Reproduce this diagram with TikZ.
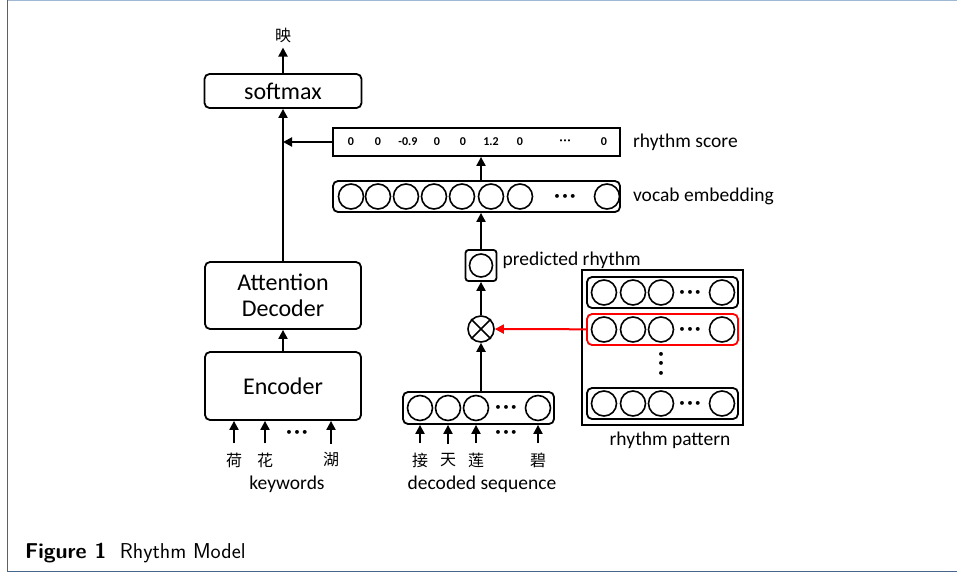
\documentclass[tikz,border=0pt]{standalone}
\usepackage{fontspec}
\setmainfont{Carlito}
\newfontfamily\cjk{Noto Sans CJK SC}
\usetikzlibrary{positioning,arrows.meta}

\definecolor{frameblue}{RGB}{70,100,140}
\definecolor{framelight}{RGB}{160,185,210}

\newcommand{\hdots}{\textbullet\hspace{2.5pt}\textbullet\hspace{2.5pt}\textbullet}

\begin{document}
\begin{tikzpicture}[x=1pt,y=-1pt,
  box/.style={draw,line width=1.8pt,rounded corners=5pt,inner sep=0pt},
  unit/.style={draw,circle,line width=1.6pt,minimum size=25pt,inner sep=0pt},
  arr/.style={-{Triangle[length=9pt,width=9pt]},line width=2pt},
  lbl/.style={font=\fontsize{19.5}{23}\selectfont,inner sep=0pt},
  big/.style={font=\fontsize{24}{27}\selectfont,align=center},
  ch/.style={font=\cjk\fontsize{16}{18}\selectfont,inner sep=0pt},
  num/.style={font=\bfseries\fontsize{12}{14}\selectfont,inner sep=0pt},
  dots/.style={font=\fontsize{11}{12}\selectfont,inner sep=0pt},
]
\useasboundingbox (0,0) rectangle (957,573);

% frame
\draw[framelight, line width=1pt] (7.5,0.5) -- (957,0.5);
\draw[frameblue, line width=1.5pt] (7.5,0) -- (7.5,571.5) -- (957,571.5);

% left branch: encoder / decoder / softmax
\node[box, big, minimum width=157pt, minimum height=34pt] (softmax) at (283,91) {softmax};
\node[ch, inner sep=3pt] (out) at (283,35) {映};
\node[box, big, minimum width=156pt, minimum height=67pt] (att) at (283,295.5) {Attention\\[-1pt]Decoder};
\node[box, big, minimum width=156pt, minimum height=68pt] (enc) at (283,386) {Encoder};

\draw[arr] (enc) -- (att);
\draw[arr] (att) -- (softmax);
\draw[arr, shorten >=2pt] (softmax) -- (out);

\foreach \x/\c [count=\i] in {234/荷,265/花,331/湖} {
  \node[ch] (k\i) at (\x,460) {\c};
  \draw[arr, shorten <=9pt] (k\i) -- (k\i |- enc.south);
}
\node[dots] (kdots) at (297,433) {\hdots};
\node[lbl] (kw) at (287,484) {keywords};

% rhythm score
\node[draw, line width=1.8pt, minimum width=287pt, minimum height=28pt] (score) at (476.5,142) {};
\foreach \x/\v [count=\i] in {351/0,378/0,408/-0.9,437/0,463/0,491/1.2,520/0,604/0}
  \node[num] (s\i) at (\x,142) {\v};
\node[dots, font=\fontsize{6}{7}\selectfont] (sdots) at (565,141) {\textbullet\hspace{1pt}\textbullet\hspace{1pt}\textbullet};
\node[lbl, right=12pt of score] (scorelbl) {rhythm score};
\draw[arr] (score.west) -- (score.west -| att.north);

% vocab embedding
\node[box, minimum width=287pt, minimum height=31pt] (vocab) at (476.5,196.5) {};
\foreach \x [count=\i] in {351,378,406,434,462,491,520,607}
  \node[unit] (v\i) at (\x,196.5) {};
\node[dots] (vdots) at (565,197) {\hdots};
\node[lbl, right=12pt of vocab] (vocablbl) {vocab embedding};

% predicted rhythm
\node[box, rounded corners=3pt, minimum size=31pt] (pred) at (481,265.5) {};
\node[unit, minimum size=23pt] (predu) at (pred) {};
\node[lbl, anchor=base west] (predlbl) at ([xshift=5pt]pred.east) {predicted rhythm};

\draw[arr] (pred) -- (vocab.south -| pred);
\draw[arr] (vocab.north -| pred) -- (score.south -| pred);

% product
\node[draw, circle, line width=1.6pt, minimum size=26pt, inner sep=0pt] (mul) at (481,329) {};
\draw[line width=1.6pt] (mul.north west) -- (mul.south east) (mul.north east) -- (mul.south west);
\draw[arr] (mul) -- (pred);

% decoded sequence
\node[box, minimum width=151pt, minimum height=32pt] (dec) at (478.5,408) {};
\foreach \x [count=\i] in {420,448,476,538}
  \node[unit] (u\i) at (\x,408) {};
\node[dots] (udots) at (506,408) {\hdots};
\draw[arr] (dec.north -| mul) -- (mul);

\foreach \x/\c [count=\i] in {420/接,448/天,476/莲,538/碧} {
  \node[ch] (d\i) at (\x,460) {\c};
  \draw[arr, shorten <=9pt] (d\i) -- (d\i |- dec.south);
}
\node[dots] (ddots) at (506,433) {\hdots};
\node[lbl] (declbl) at (482,484) {decoded sequence};

% rhythm pattern
\node[draw, line width=2.2pt, minimum width=161pt, minimum height=155pt] (pat) at (662.5,347.5) {};
\foreach \y/\c [count=\r] in {292.5/black,329.5/red,403.5/black} {
  \node[box, draw=\c, minimum width=151pt, minimum height=31pt] (row\r) at (662.5,\y) {};
  \foreach \x [count=\i] in {604,633,661,722}
    \node[unit] (p\r\i) at (\x,\y) {};
  \node[dots] (pdots\r) at (690,\y) {\hdots};
}
\node[dots, align=center, font=\fontsize{11}{9.5}\selectfont] (rowdots) at (661,364) {\textbullet\\\textbullet\\\textbullet};
\node[lbl] (patlbl) at (670,440) {rhythm pattern};
\draw[arr, red] (row2) -- (mul);

% caption
\node[anchor=base west, inner sep=0pt, font=\sffamily\fontsize{21.5}{24}\selectfont] (cap) at (25,558) {\textbf{Figure 1}\ \ Rhythm Model};
\end{tikzpicture}
\end{document}
